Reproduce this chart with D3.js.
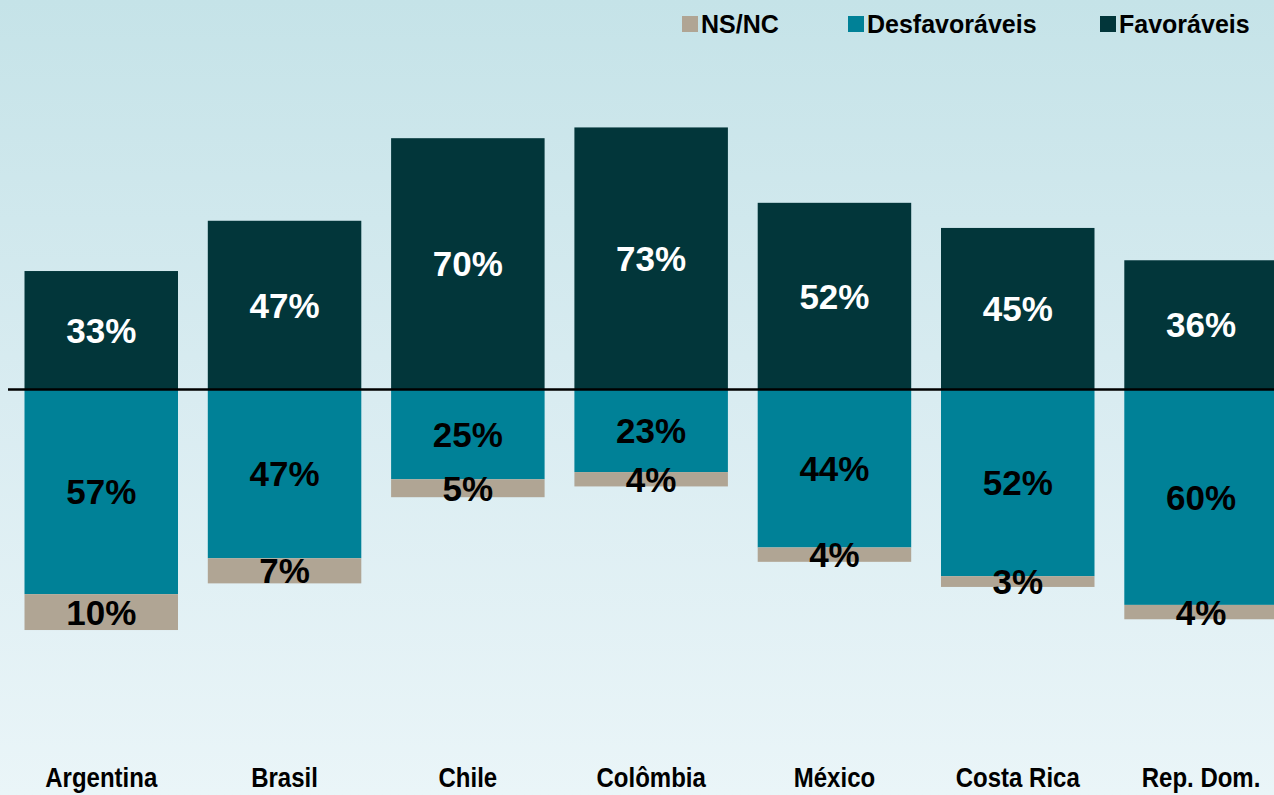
<!DOCTYPE html>
<html>
<head>
<meta charset="utf-8">
<script src="https://cdn.jsdelivr.net/npm/d3@7"></script>
<style>
  html, body { margin: 0; padding: 0; overflow: hidden; }
  svg { display: block; font-family: "Liberation Sans", Arial, sans-serif; font-weight: bold; }
</style>
</head>
<body>
<svg id="chart" width="1274" height="795"></svg>
<script>
// Survey results by country (percent)
const countries = ["Argentina", "Brasil", "Chile", "Colômbia", "México", "Costa Rica", "Rep. Dom."];
const favoraveis = [33, 47, 70, 73, 52, 45, 36];
const desfavoraveis = [57, 47, 25, 23, 44, 52, 60];
const nsnc = [10, 7, 5, 4, 4, 3, 4];
const legendLabels = ["NS/NC", "Desfavoráveis", "Favoráveis"];

const W = 1274, H = 795;
const colors = { fav: "#02363a", des: "#008197", ns: "#b0a594" };

const svg = d3.select("#chart");

// background gradient
const defs = svg.append("defs");
const grad = defs.append("linearGradient").attr("id", "bg").attr("x1", 0).attr("y1", 0).attr("x2", 0).attr("y2", 1);
grad.append("stop").attr("offset", "0%").attr("stop-color", "#c5e3e8");
grad.append("stop").attr("offset", "50%").attr("stop-color", "#d9ecf1");
grad.append("stop").attr("offset", "100%").attr("stop-color", "#eaf5f8");
svg.append("rect").attr("width", W).attr("height", H).attr("fill", "url(#bg)");

// scales
const zeroY = 389.5, pxPer = 3.59;
const y = d3.scaleLinear().domain([-80, 80]).range([zeroY + 80 * pxPer, zeroY - 80 * pxPer]);
const x = d3.scaleBand().domain(countries).range([9.6, 1292.7]).paddingInner(0.1626).paddingOuter(0.0813);

const rows = countries.map((c, i) => ({ c, fav: favoraveis[i], des: desfavoraveis[i], ns: nsnc[i] }));

const segs = [];
rows.forEach(r => {
  segs.push({ c: r.c, key: "fav", v: r.fav, y0: 0, y1: r.fav, labelColor: "#fff" });
  segs.push({ c: r.c, key: "des", v: r.des, y0: -r.des, y1: 0, labelColor: "#000" });
  segs.push({ c: r.c, key: "ns", v: r.ns, y0: -(r.des + r.ns), y1: -r.des, labelColor: "#000" });
});

svg.append("g").selectAll("rect").data(segs).join("rect")
  .attr("x", d => x(d.c))
  .attr("width", x.bandwidth())
  .attr("y", d => y(d.y1))
  .attr("height", d => y(d.y0) - y(d.y1))
  .attr("fill", d => colors[d.key]);

// zero baseline
svg.append("line")
  .attr("x1", 8).attr("x2", W)
  .attr("y1", y(0)).attr("y2", y(0))
  .attr("stroke", "#000").attr("stroke-width", 2.5);

// value labels
svg.append("g").selectAll("text").data(segs).join("text")
  .attr("x", d => x(d.c) + x.bandwidth() / 2)
  .attr("y", d => (y(d.y0) + y(d.y1)) / 2)
  .attr("dy", "0.36em")
  .attr("text-anchor", "middle")
  .attr("font-size", 35)
  .attr("fill", d => d.labelColor)
  .text(d => d.v + "%");

// category labels
svg.append("g").selectAll("text").data(countries).join("text")
  .attr("transform", d => `translate(${x(d) + x.bandwidth() / 2},787) scale(1,1.15)`)
  .attr("text-anchor", "middle")
  .attr("font-size", 24)
  .attr("fill", "#000")
  .text(d => d);

// legend
const legendX = [682, 848, 1100];
const legendColors = [colors.ns, colors.des, colors.fav];
const lg = svg.append("g").selectAll("g").data(legendLabels).join("g")
  .attr("transform", (d, i) => `translate(${legendX[i]},16)`);
lg.append("rect").attr("width", 16).attr("height", 16).attr("fill", (d, i) => legendColors[i]);
lg.append("text").attr("x", 19).attr("y", 16.5).attr("font-size", 25).attr("fill", "#000").text(d => d);
</script>
</body>
</html>
